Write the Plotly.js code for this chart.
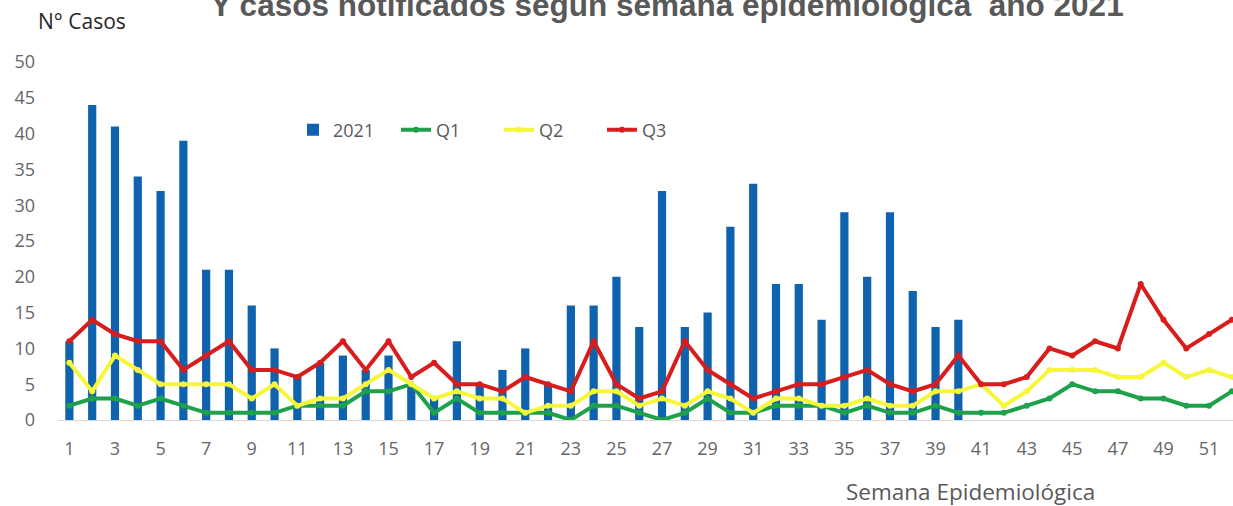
<!DOCTYPE html>
<html>
<head>
<meta charset="utf-8">
<script src="https://cdn.plot.ly/plotly-3.0.1.min.js"></script>
<style>
  html, body { margin: 0; padding: 0; background: #ffffff; }
  #chart { width: 1233px; height: 506px; }
</style>
</head>
<body>
<div id="chart"></div>
<script>
// Semana epidemiológica 1..52
const weeks = Array.from({length: 52}, (_, i) => i + 1);

// Casos notificados 2021 (solo hasta semana 40)
const casos2021 = [11, 44, 41, 34, 32, 39, 21, 21, 16, 10,
                   6, 8, 9, 7, 9, 5, 3, 11, 5, 7,
                   10, 5, 16, 16, 20, 13, 32, 13, 15, 27,
                   33, 19, 19, 14, 29, 20, 29, 18, 13, 14,
                   null, null, null, null, null, null, null, null, null, null, null, null];

const q1 = [2, 3, 3, 2, 3, 2, 1, 1, 1, 1,
            2, 2, 2, 4, 4, 5, 1, 3, 1, 1,
            1, 1, 0, 2, 2, 1, 0, 1, 3, 1,
            1, 2, 2, 2, 1, 2, 1, 1, 2, 1,
            1, 1, 2, 3, 5, 4, 4, 3, 3, 2, 2, 4];

const q2 = [8, 4, 9, 7, 5, 5, 5, 5, 3, 5,
            2, 3, 3, 5, 7, 5, 3, 4, 3, 3,
            1, 2, 2, 4, 4, 2, 3, 2, 4, 3,
            1, 3, 3, 2, 2, 3, 2, 2, 4, 4,
            5, 2, 4, 7, 7, 7, 6, 6, 8, 6, 7, 6];

const q3 = [11, 14, 12, 11, 11, 7, 9, 11, 7, 7,
            6, 8, 11, 7, 11, 6, 8, 5, 5, 4,
            6, 5, 4, 11, 5, 3, 4, 11, 7, 5,
            3, 4, 5, 5, 6, 7, 5, 4, 5, 9,
            5, 5, 6, 10, 9, 11, 10, 19, 14, 10, 12, 14];

const yTicks = [0, 5, 10, 15, 20, 25, 30, 35, 40, 45, 50];
const xTicks = weeks.filter(w => w % 2 === 1);

const tickFont = {family: '"Open Sans", "DejaVu Sans", sans-serif', size: 18, color: '#666666'};

const traces = [
  {
    type: 'bar', name: '2021', x: weeks, y: casos2021,
    marker: {color: '#0F62AE'}
  },
  {
    type: 'scatter', mode: 'lines+markers', name: 'Q1', x: weeks, y: q1,
    line: {color: '#1FA04A', width: 4}, marker: {color: '#1FA04A', size: 6}
  },
  {
    type: 'scatter', mode: 'lines+markers', name: 'Q2', x: weeks, y: q2,
    line: {color: '#F6F63A', width: 4}, marker: {color: '#F6F63A', size: 6}
  },
  {
    type: 'scatter', mode: 'lines+markers', name: 'Q3', x: weeks, y: q3,
    line: {color: '#D91C1C', width: 4}, marker: {color: '#D91C1C', size: 6}
  }
];

const layout = {
  width: 1233, height: 506,
  margin: {l: 58, r: 0, t: 62, b: 86, pad: 0},
  paper_bgcolor: '#ffffff', plot_bgcolor: '#ffffff',
  bargap: 0.64,
  showlegend: true,
  title: {
    text: 'Y casos notificados según semana epidemiológica  año 2021',
    font: {family: '"Liberation Sans", Arial, sans-serif', size: 31.5, color: '#595959', weight: 'bold'},
    x: 0.541, xanchor: 'center', xref: 'container',
    y: 0.969, yanchor: 'bottom', yref: 'container'
  },
  legend: {
    orientation: 'h', x: 0.2, xanchor: 'left', y: 0.81, yanchor: 'middle',
    font: {family: '"Open Sans", "DejaVu Sans", sans-serif', size: 18, color: '#595959'},
    bgcolor: 'rgba(0,0,0,0)', entrywidth: 58, entrywidthmode: 'pixels', tracegroupgap: 0
  },
  xaxis: {
    range: [0.5, 52.05], tickmode: 'array', tickvals: xTicks, ticktext: xTicks.map(String),
    showgrid: false, zeroline: false, showline: true, linecolor: '#D9D9D9', linewidth: 1,
    ticks: '', tickfont: tickFont, ticklabelstandoff: 12, fixedrange: true
  },
  yaxis: {
    range: [0, 50], tickmode: 'array', tickvals: yTicks, ticktext: yTicks.map(String),
    showgrid: false, zeroline: false, showline: false,
    ticks: '', tickfont: tickFont, ticklabelstandoff: 22, fixedrange: true
  },
  annotations: [
    {
      text: 'N° Casos', xref: 'paper', yref: 'paper',
      x: -0.019, xanchor: 'left', y: 1.115, yanchor: 'middle', showarrow: false,
      font: {family: '"Open Sans", "DejaVu Sans", sans-serif', size: 21, color: '#262626'}
    },
    {
      text: 'Semana Epidemiológica', xref: 'paper', yref: 'paper',
      x: 0.669, xanchor: 'left', y: -0.2, yanchor: 'middle', showarrow: false,
      font: {family: '"Open Sans", "DejaVu Sans", sans-serif', size: 22.5, color: '#595959'}
    }
  ]
};

Plotly.newPlot('chart', traces, layout, {displayModeBar: false, staticPlot: true});
</script>
</body>
</html>
